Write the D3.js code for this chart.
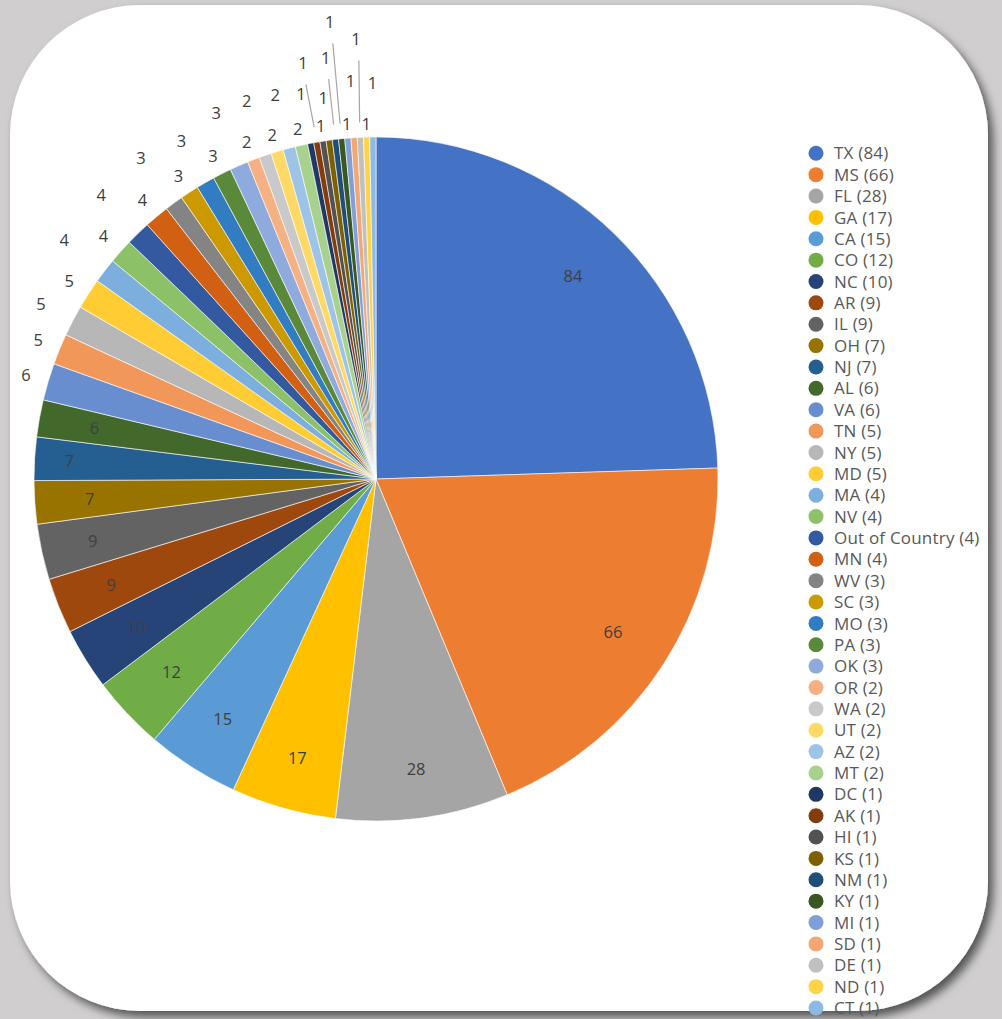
<!DOCTYPE html>
<html>
<head>
<meta charset="utf-8">
<script src="https://d3js.org/d3.v7.min.js"></script>
<style>
  html, body { margin: 0; padding: 0; background: #d0cece; }
  svg { display: block; }
</style>
</head>
<body>
<svg id="vis"></svg>
<script>
    // data
    let states = ["TX", "MS", "FL", "GA", "CA", "CO", "NC", "AR", "IL", "OH", "NJ", "AL", "VA", "TN",
        "NY", "MD", "MA", "NV", "Out of Country", "MN", "WV", "SC", "MO", "PA", "OK", "OR", "WA",
        "UT", "AZ", "MT", "DC", "AK", "HI", "KS", "NM", "KY", "MI", "SD", "DE", "ND", "CT"];
    let counts = [84, 66, 28, 17, 15, 12, 10, 9, 9, 7, 7, 6, 6, 5,
        5, 5, 4, 4, 4, 4, 3, 3, 3, 3, 3, 2, 2,
        2, 2, 2, 1, 1, 1, 1, 1, 1, 1, 1, 1, 1, 1];
    let colors = ["#4472c4", "#ed7d31", "#a5a5a5", "#ffc000", "#5b9bd5", "#70ad47",
        "#264478", "#9e480e", "#636363", "#997300", "#255e91", "#43682b",
        "#698ed0", "#f1975a", "#b7b7b7", "#ffcd33", "#7cafdd", "#8cc168",
        "#335aa1", "#d26012", "#848484", "#cc9a00", "#327dc2", "#5a8a39",
        "#8faadc", "#f5b183", "#c9c9c9", "#ffd966", "#9dc3e6", "#a9d18e",
        "#203864", "#843c0c", "#525252", "#7f6000", "#1f4e79", "#385723",
        "#7f9fd9", "#f4a673", "#c0c0c0", "#ffd347", "#8cbae3"];

    // where Excel put each data label (distance from the pie centre)
    let labelRadius = [283, 282, 293, 290, 285, 281, 282, 285, 290, 287, 307, 286,
        365, 365, 378, 365, 393, 365, 395, 364, 398, 362, 390, 362, 399, 361, 399, 359, 397, 359,
        392, 422, 357, 385, 424, 459, 356, 399, 440, 355, 396];

    let width = 1002, height = 1019;
    let cx = 376, cy = 479, radius = 342;
    let font = "'Open Sans', Lato, sans-serif";

    let svg = d3.select("#vis").attr("width", width).attr("height", height);

    // card with shadow
    let defs = svg.append("defs");
    let shadow = defs.append("filter").attr("id", "shadow")
        .attr("x", "-5%").attr("y", "-5%").attr("width", "115%").attr("height", "115%");
    shadow.append("feDropShadow")
        .attr("dx", 5).attr("dy", 6).attr("stdDeviation", 5)
        .attr("flood-color", "#000").attr("flood-opacity", 0.6);

    svg.append("rect")
        .attr("width", width).attr("height", height)
        .attr("fill", "#d0cece");
    svg.append("rect")
        .attr("x", 10).attr("y", 5)
        .attr("width", 978).attr("height", 1006)
        .attr("rx", 130).attr("ry", 130)
        .attr("fill", "white")
        .attr("filter", "url(#shadow)");

    // pie
    let pie = d3.pie().sort(null).value(d => d)(counts);
    let arc = d3.arc().innerRadius(0).outerRadius(radius);

    let g = svg.append("g").attr("transform", `translate(${cx},${cy})`);
    g.selectAll(".slice")
        .data(pie)
        .join("path")
        .attr("class", "slice")
        .attr("d", arc)
        .attr("fill", (d, i) => colors[i])
        .attr("stroke", "white")
        .attr("stroke-width", 0.6);

    let polar = (a, r) => [r * Math.sin(a), -r * Math.cos(a)];

    // leader lines for labels pushed far out
    g.selectAll(".leader")
        .data(pie.filter((d, i) => labelRadius[i] > 415))
        .join("line")
        .attr("class", "leader")
        .each(function (d) {
            let i = d.index;
            let a = (d.startAngle + d.endAngle) / 2;
            let [lx, ly] = polar(a, labelRadius[i]);
            let [ex, ey] = polar(a, radius + 15);
            d3.select(this)
                .attr("x1", lx + 3).attr("y1", ly + 21)
                .attr("x2", ex).attr("y2", ey);
        })
        .attr("stroke", "#a6a6a6")
        .attr("stroke-width", 1.2);

    g.selectAll(".label")
        .data(pie)
        .join("text")
        .attr("class", "label")
        .attr("transform", (d, i) => {
            let [x, y] = polar((d.startAngle + d.endAngle) / 2, labelRadius[i]);
            return `translate(${x},${y})`;
        })
        .attr("text-anchor", "middle")
        .attr("dy", "0.36em")
        .attr("font-family", font)
        .attr("font-size", 16.5)
        .attr("fill", "#404040")
        .text(d => d.data);

    // legend
    let legendY = d3.scalePoint().domain(d3.range(states.length)).range([153.3, 1008]);
    let legend = svg.append("g");
    let items = legend.selectAll(".item")
        .data(states)
        .join("g")
        .attr("class", "item")
        .attr("transform", (d, i) => `translate(816,${legendY(i)})`);
    items.append("circle")
        .attr("r", 7.5)
        .attr("fill", (d, i) => colors[i]);
    items.append("text")
        .attr("x", 18)
        .attr("dy", "0.36em")
        .attr("font-family", font)
        .attr("font-size", 17)
        .attr("letter-spacing", 0.2)
        .attr("fill", "#595959")
        .text((d, i) => `${d} (${counts[i]})`);
</script>
</body>
</html>
